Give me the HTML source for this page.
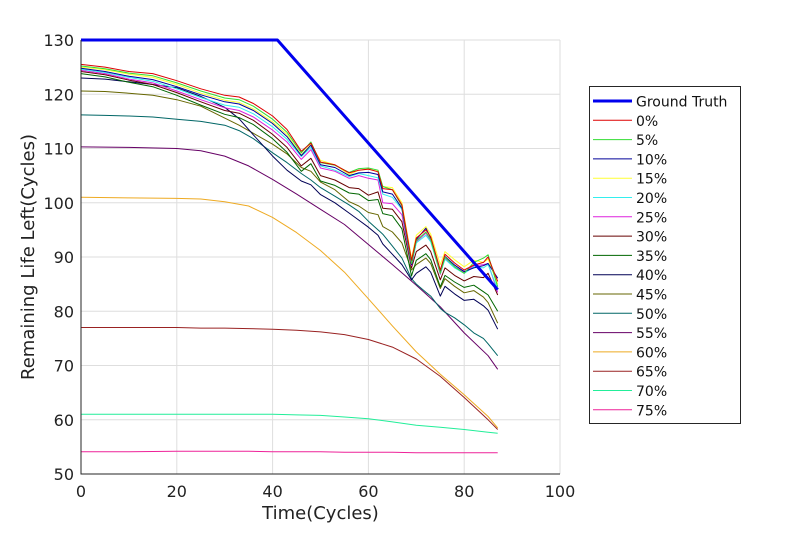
<!DOCTYPE html>
<html><head><meta charset="utf-8">
<style>
html,body{margin:0;padding:0;background:#fff;}
svg{display:block;font-family:"DejaVu Sans","Liberation Sans",sans-serif;}
</style></head>
<body>
<svg id="chart" width="800" height="533" viewBox="0 0 800 533" xmlns="http://www.w3.org/2000/svg">
<rect x="0" y="0" width="800" height="533" fill="#fff"/>
<g id="grid"></g>
<g id="series"></g>
<g id="axes"></g>
<g id="legend"></g>
</svg>
<script>
const xTicks=[0,20,40,60,80,100];
const yTicks=[50,60,70,80,90,100,110,120,130];
const truthCycles=[0,41,87];
const truthValues=[130,130,84];
const cycles=[0,5,10,15,20,25,30,33,36,40,43,46,48,50,53,56,58,60,62,63,65,67,69,70,72,73,75,76,78,80,82,84,85,87];
const s0=[125.5,125,124.2,123.8,122.5,121,119.8,119.5,118.3,116,113.5,109.5,111,107.5,107,105.5,106,106.2,105.7,102.6,102.4,99.6,89.4,93.5,95,93.7,87.6,90.5,88.9,87.6,88.5,89,90,85.5];
const s5=[125.2,124.7,123.9,123.4,122.1,120.6,119.3,119,117.8,115.4,113,109.2,111.2,107.4,106.9,105.6,106.3,106.4,106,103,102.4,99.4,88.8,93,94.6,93.2,87,90,88.2,87,89,89.8,90.4,84.5];
const s10=[124.8,124.2,123.3,122.7,121.4,119.9,118.6,118.2,117,114.6,112.2,108.7,110.6,107,106.5,105,105.5,105.6,105.2,102,101.6,99,88.6,93.2,95.3,93.5,87.4,90.1,88.5,87.3,88,88.4,88.8,86.1];
const s15=[125,124.5,123.7,123.1,121.8,120.2,118.9,118.5,117.3,114.9,112.6,108.8,110.8,107.8,107,105.2,106,106.2,105.8,103,102.8,100,89.8,94,95.6,94.2,88.6,91,89.5,88.2,89.4,89,89.6,85];
const s20=[124.6,124,123.1,122.4,121,119.4,118,117.6,116.4,114,111.7,108.5,110.2,106.8,106,104.8,105.4,105,104.6,101.6,101,98.8,88.6,92.6,94,92.8,87,89.6,88,87,88.2,88,88.6,84];
const s25=[124.4,123.8,122.8,122.1,120.6,119,117.5,117,115.8,113.4,111.2,108,109.8,106.4,105.8,104.5,105,104.5,104.2,100,99.8,97.8,88.4,92.8,94.4,93,86.8,89.8,88.2,87.2,88.4,88.6,88.8,83.5];
const s30=[124.2,123.6,122.6,121.8,120.3,118.6,117,116.5,115.2,112.6,110.2,106.8,108.2,105,104.2,102.8,102.6,101.4,102,99,98.8,96.5,88,91,92.2,91,85.8,88,86.6,85.6,86.4,86.2,87,83];
const s35=[123.8,123.2,122.2,121.4,119.8,118,116.3,115.7,114.4,111.8,109.3,105.8,107.2,104,103.2,101.8,101.6,100.4,100.6,98,97.6,95.2,86.5,89.4,90.6,89.5,84.5,86.6,85.4,84.4,84.8,83.6,83,80];
const s40=[123,122.8,122.3,121.8,121.2,119.6,117.6,115.5,112.5,108.6,106,104,103.3,101.5,100,98.1,96.8,95.5,94,92.4,90.5,88.6,85.8,87,88.2,87.2,82.8,84.6,83.2,82,82.2,81,80.2,76.7];
const s45=[120.6,120.5,120.2,119.8,119,117.8,115.6,114.3,112.8,110.8,109,106.5,105.8,103.8,102.4,100.2,99.4,98.2,97.8,95.6,94.6,92.6,87.6,88.6,89.8,88.8,84.2,86,84.6,83.4,83.8,82.6,81.6,77.8];
const s50=[116.2,116.1,116,115.8,115.4,115,114.3,113.3,111.8,109.2,107.4,105.4,104.2,102.8,101.2,99.6,98.4,96.6,95,94.2,92,89.8,86,85,83.5,82.8,80.5,79.8,78.8,77.5,76,75,74,71.8];
const smoothCycles=[0,10,20,25,30,35,40,45,50,55,60,65,70,75,80,85,87];
const s55=[110.3,110.2,110,109.6,108.6,106.8,104.3,101.6,98.8,96,92.3,88.6,84.8,80.8,76,71.8,69.3];
const s60=[101,100.9,100.8,100.7,100.2,99.4,97.3,94.5,91.2,87.2,82.3,77.3,72.5,68.4,64.6,60.6,58.5];
const s65=[77,77,77,76.9,76.9,76.8,76.7,76.5,76.2,75.7,74.8,73.4,71.2,68,64.1,60,58.2];
const s70=[61,61,61,61,61,61,61,60.9,60.8,60.5,60.2,59.6,59,58.6,58.2,57.7,57.5];
const s75=[54.1,54.1,54.2,54.2,54.2,54.2,54.1,54.1,54.1,54,54,54,53.9,53.9,53.9,53.9,53.9];
const seriesLabels=["Ground Truth","0%","5%","10%","15%","20%","25%","30%","35%","40%","45%","50%","55%","60%","65%","70%","75%"];

const NS="http://www.w3.org/2000/svg";
const X0=81,X1=560,Y0=474,Y1=40;
function sx(v){return X0+(v-0)/(100-0)*(X1-X0);}
function sy(v){return Y0-(v-50)/(130-50)*(Y0-Y1);}
function mk(tag,attrs,parent){const e=document.createElementNS(NS,tag);for(const k in attrs)e.setAttribute(k,attrs[k]);parent.appendChild(e);return e;}

const grid=document.getElementById('grid');
const axes=document.getElementById('axes');
xTicks.forEach(t=>{
  const l=mk('line',{x1:sx(t),x2:sx(t),y1:Y1,y2:Y0,stroke:'#dedede','stroke-width':1},grid);
  
  
  const tx=mk('text',{x:sx(t),y:Y0+23,'text-anchor':'middle','font-size':16,fill:'#222'},axes);
  tx.textContent=t;
  
  
});
yTicks.forEach(t=>{
  const l=mk('line',{x1:X0,x2:X1,y1:sy(t),y2:sy(t),stroke:'#dedede','stroke-width':1},grid);
  
  
  const tx=mk('text',{x:X0-7,y:sy(t)+6,'text-anchor':'end','font-size':16,fill:'#222'},axes);
  tx.textContent=t;
  
  
});
const ax=mk('path',{d:`M${X0} ${Y1} V${Y0} H${X1}`,fill:'none',stroke:'#262626','stroke-width':1},axes);


const xt=mk('text',{x:(X0+X1)/2,y:519,'text-anchor':'middle','font-size':18,fill:'#222'},axes);
xt.textContent='Time(Cycles)';


const yt=mk('text',{x:0,y:0,'text-anchor':'middle','font-size':18,fill:'#222',transform:`translate(34 ${(Y0+Y1)/2}) rotate(-90)`},axes);
yt.textContent='Remaining Life Left(Cycles)';



const colors=['#0000ee','#dd0000','#33dd33','#000099','#ffff33','#33eeee','#dd22dd','#660000','#006600','#000055','#666600','#006666','#660066','#eeaa22','#992222','#22ee99','#ee2299'];
const allX=[truthCycles,cycles,cycles,cycles,cycles,cycles,cycles,cycles,cycles,cycles,cycles,cycles,smoothCycles,smoothCycles,smoothCycles,smoothCycles,smoothCycles];
const allY=[truthValues,s0,s5,s10,s15,s20,s25,s30,s35,s40,s45,s50,s55,s60,s65,s70,s75];
const sg=document.getElementById('series');
for(let i=allY.length-1;i>=0;i--){
  const xs=allX[i],ys=allY[i];
  const d=ys.map((v,j)=>(j?'L':'M')+sx(xs[j]).toFixed(1)+' '+sy(v).toFixed(1)).join(' ');
  const p=mk('path',{d:d,fill:'none',stroke:colors[i],'stroke-width':i===0?3:1,'stroke-linejoin':'round'},sg);
  
  
}
const lg=document.getElementById('legend');
const box=mk('rect',{x:589.5,y:86.5,width:151,height:337,fill:'#fff',stroke:'#262626','stroke-width':1},lg);


seriesLabels.forEach((lab,i)=>{
  const y=101+i*19.3;
  const ln=mk('line',{x1:593,x2:632,y1:y,y2:y,stroke:colors[i],'stroke-width':i===0?3:1},lg);
  
  
  const t=mk('text',{x:636,y:y+5.5,'font-size':14,fill:'#111'},lg);
  t.textContent=lab;
  
  
});
</script>
</body></html>
